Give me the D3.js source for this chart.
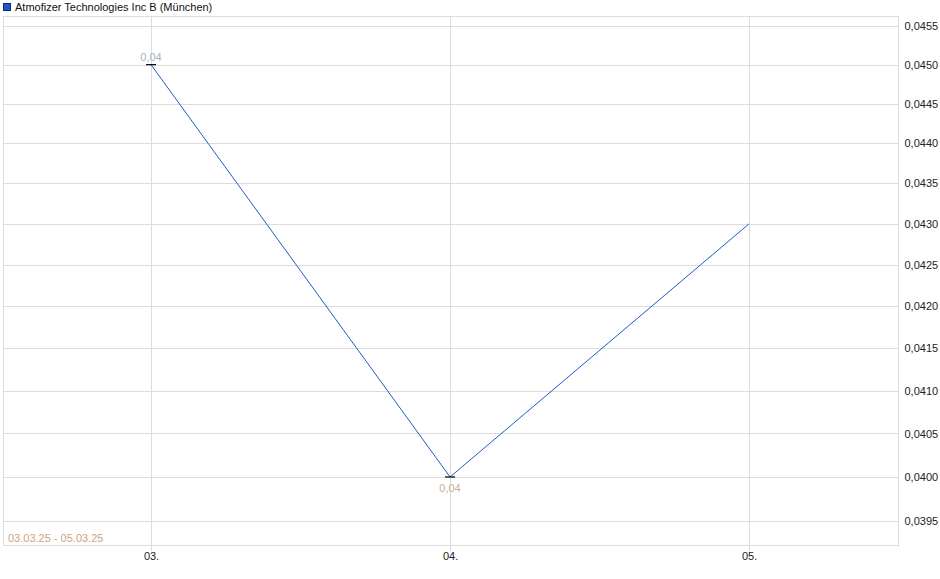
<!DOCTYPE html>
<html lang="de">
	<head>
		<meta charset="utf-8">
		<title>Atmofizer Technologies Inc B</title>
		<script type="text/javascript" src="https://cdn.jsdelivr.net/npm/d3@7"></script>
		<style>
			body { margin: 0; background: #fff; }
			text { font-family: "Liberation Sans", Arial, sans-serif; }
		</style>
	</head>
	<body>
		<script type="text/javascript">

			// Kurs pro Tag (München), 03.03.25 - 05.03.25
			var days = ["03.", "04.", "05."];
			var prices = [0.045, 0.040, 0.043];
			var yTicks = [0.0395, 0.0400, 0.0405, 0.0410, 0.0415, 0.0420, 0.0425,
			              0.0430, 0.0435, 0.0440, 0.0445, 0.0450, 0.0455];
			var seriesName = "Atmofizer Technologies Inc B (München)";
			var rangeLabel = "03.03.25 - 05.03.25";

			var width = 940, height = 579;
			// Plotbereich (nicht "top" nennen, das ist window.top)
			var pLeft = 3, pRight = 898, pTop = 16, pBottom = 545;

			var svg = d3.select("body").append("svg")
				.attr("width", width)
				.attr("height", height);

			// x: Tagesindex, etwas Rand links und rechts
			var x = d3.scaleLinear()
				.domain([-0.495, days.length - 1 + 0.498])
				.range([pLeft, pRight]);

			// y: logarithmisch
			var y = d3.scaleLog()
				.domain([0.03923, 0.04563])
				.range([pBottom, pTop]);

			var fmt = function(v) { return d3.format(".4f")(v).replace(".", ","); };

			// Gitter
			svg.append("g")
				.selectAll("line")
				.data(yTicks)
				.enter().append("line")
					.attr("x1", pLeft).attr("x2", pRight)
					.attr("y1", d => Math.round(y(d)) + 0.5)
					.attr("y2", d => Math.round(y(d)) + 0.5)
					.attr("stroke", "#dcdcdc");

			svg.append("g")
				.selectAll("line")
				.data(days)
				.enter().append("line")
					.attr("x1", (d, i) => Math.round(x(i)) + 0.5)
					.attr("x2", (d, i) => Math.round(x(i)) + 0.5)
					.attr("y1", pTop).attr("y2", pBottom + 6)
					.attr("stroke", "#dcdcdc");

			// Rahmen
			svg.append("rect")
				.attr("x", pLeft + 0.5).attr("y", pTop + 0.5)
				.attr("width", pRight - pLeft).attr("height", pBottom - pTop)
				.attr("fill", "none")
				.attr("stroke", "#dcdcdc");

			// Achse rechts
			var yAxis = svg.append("g")
				.attr("transform", "translate(" + (pRight + 0.5) + ",0)")
				.call(d3.axisRight(y).tickValues(yTicks).tickFormat(fmt).tickSize(0).tickPadding(6));
			yAxis.select(".domain").remove();
			yAxis.selectAll("text")
				.attr("font-family", "Liberation Sans, Arial, sans-serif")
				.attr("font-size", 11)
				.attr("fill", "#222");

			// Achse unten
			var xAxis = svg.append("g")
				.attr("transform", "translate(0," + pBottom + ")")
				.call(d3.axisBottom(x).tickValues(d3.range(days.length)).tickFormat(i => days[i]).tickSize(0).tickPadding(7));
			xAxis.select(".domain").remove();
			xAxis.selectAll("text")
				.attr("font-family", "Liberation Sans, Arial, sans-serif")
				.attr("font-size", 11)
				.attr("fill", "#222");

			// Kurslinie
			var line = d3.line()
				.x((d, i) => x(i))
				.y(d => y(d));

			svg.append("path")
				.datum(prices)
				.attr("d", line)
				.attr("fill", "none")
				.attr("stroke", "#1f5bcc")
				.attr("stroke-width", 1);

			// Hoch / Tief Markierung
			var hi = d3.maxIndex(prices), lo = d3.minIndex(prices);

			svg.append("g")
				.selectAll("line")
				.data([hi, lo])
				.enter().append("line")
					.attr("x1", i => x(i) - 5).attr("x2", i => x(i) + 5)
					.attr("y1", i => y(prices[i])).attr("y2", i => y(prices[i]))
					.attr("stroke", "#000")
					.attr("stroke-width", 1.2);

			svg.append("text")
				.attr("x", x(hi)).attr("y", y(prices[hi]) - 4)
				.attr("text-anchor", "middle")
				.attr("font-size", 11)
				.attr("fill", "#a3b3c6")
				.text(d3.format(".2f")(prices[hi]).replace(".", ","));

			svg.append("text")
				.attr("x", x(lo)).attr("y", y(prices[lo]) + 15)
				.attr("text-anchor", "middle")
				.attr("font-size", 11)
				.attr("fill", "#c9b196")
				.text(d3.format(".2f")(prices[lo]).replace(".", ","));

			// Zeitraum
			svg.append("text")
				.attr("x", 8).attr("y", pBottom - 3)
				.attr("font-size", 11)
				.attr("fill", "#c9a57f")
				.text(rangeLabel);

			// Legende
			svg.append("rect")
				.attr("x", 3.5).attr("y", 3.5)
				.attr("width", 7).attr("height", 7)
				.attr("fill", "#1f55c4")
				.attr("stroke", "#0e2f78");

			svg.append("text")
				.attr("x", 15).attr("y", 11)
				.attr("font-size", 11)
				.attr("fill", "#111")
				.text(seriesName);

		</script>
	</body>
</html>
